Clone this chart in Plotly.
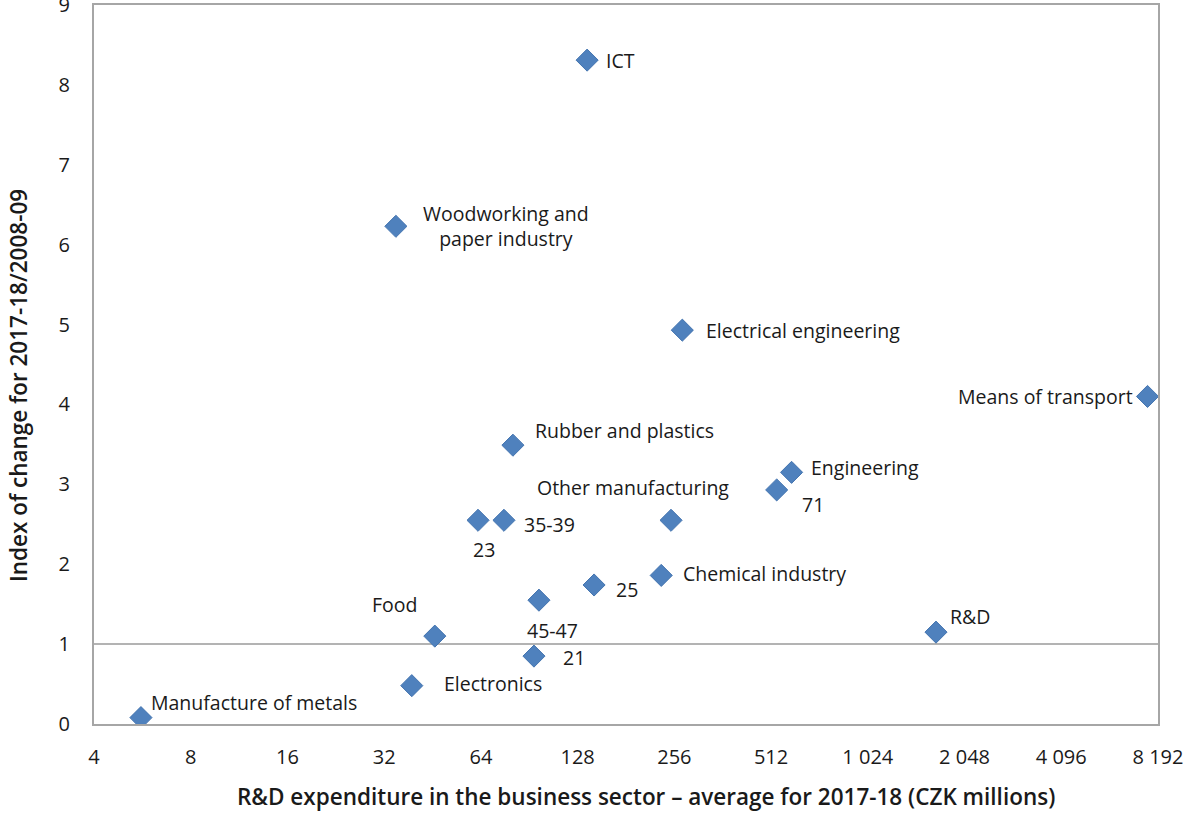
import numpy as np
import plotly.graph_objects as go

# R&D expenditure by industry (CZK millions, avg 2017-18) vs. index of change
sectors = [
    "Manufacture of metals", "Electronics", "Food", "Woodworking and<br>paper industry",
    "23", "35-39", "Rubber and plastics", "45-47", "21", "ICT", "25",
    "Chemical industry", "Other manufacturing", "Electrical engineering", "71",
    "Engineering", "R&D", "Means of transport",
]
expenditure = [5.6, 39, 46, 34.8, 62.7, 75.5, 80.5, 97, 93.6, 137, 144,
               233, 250, 271, 533, 593, 1669, 7600]
change_index = [0.08, 0.48, 1.10, 6.23, 2.55, 2.55, 3.49, 1.55, 0.85, 8.31, 1.74,
                1.86, 2.55, 4.93, 2.93, 3.15, 1.15, 4.10]

# label placement per point: (xanchor, xshift, yshift)
label_pos = [
    ("left", 8, 15), ("left", 30, 2), ("right", -16, 32), ("center", 110, 0),
    ("center", 6, -29), ("left", 18, -4), ("left", 20, 15), ("center", 14, -30),
    ("left", 27, -1), ("left", 17, 0), ("left", 20, -5),
    ("left", 20, 2), ("right", 60, 33), ("left", 22, 0), ("left", 23, -15),
    ("left", 17, 5), ("left", 12, 16), ("right", -13, 0),
]

tick_vals = [4, 8, 16, 32, 64, 128, 256, 512, 1024, 2048, 4096, 8192]
tick_text = ["4", "8", "16", "32", "64", "128", "256", "512",
             "1 024", "2 048", "4 096", "8 192"]
y_ticks = list(range(0, 10))

FONT = "Open Sans"
TXT = "#1a1a1a"

fig = go.Figure()
fig.add_trace(go.Scatter(
    x=expenditure, y=change_index, mode="markers",
    marker=dict(symbol="diamond", size=17, color="#4F81BD",
                line=dict(color="#4575b0", width=1)),
    hoverinfo="skip", showlegend=False,
))

for name, xv, yv, (anc, xs, ys) in zip(sectors, expenditure, change_index, label_pos):
    fig.add_annotation(
        x=np.log10(xv), y=yv, text=name, showarrow=False,
        xanchor=anc, yanchor="middle", xshift=xs, yshift=ys,
        font=dict(family=FONT, size=19.5, color=TXT), align="center",
    )

# axis titles
title_font = dict(family=FONT, size=22.5, color=TXT, weight=600)
fig.add_annotation(
    xref="paper", yref="paper", x=0.519, y=-0.1015, showarrow=False,
    xanchor="center", yanchor="middle", font=title_font,
    text="R&D expenditure in the business sector – average for 2017-18 (CZK millions)",
)
fig.add_annotation(
    xref="paper", yref="paper", x=-0.0714, y=0.470, showarrow=False,
    xanchor="center", yanchor="middle", textangle=-90, font=title_font,
    text="Index of change for 2017-18/2008-09",
)

# reference line at index = 1
fig.add_shape(type="line", xref="paper", x0=0, x1=1, yref="y", y0=1, y1=1,
              line=dict(color="#b3b3b3", width=2), layer="below")

fig.update_xaxes(
    type="log", range=[np.log10(4), np.log10(8192)],
    tickvals=tick_vals, ticktext=tick_text, automargin=False,
    showgrid=False, zeroline=False,
    showline=True, linecolor="#a6a6a6", linewidth=2, mirror=True,
    ticks="", ticklabelstandoff=14,
    tickfont=dict(family=FONT, size=20, color=TXT),
)
fig.update_yaxes(
    range=[0, 9.0001], tickvals=y_ticks, ticklabeloverflow="allow", automargin=False,
    showgrid=False, zeroline=False,
    showline=True, linecolor="#a6a6a6", linewidth=2, mirror=True,
    ticks="", ticklabelstandoff=18,
    tickfont=dict(family=FONT, size=20, color=TXT),
)

fig.update_layout(
    width=1186, height=813,
    margin=dict(l=94, r=28, t=5, b=89),
    paper_bgcolor="white", plot_bgcolor="white",
)

fig.write_html("out.html")
